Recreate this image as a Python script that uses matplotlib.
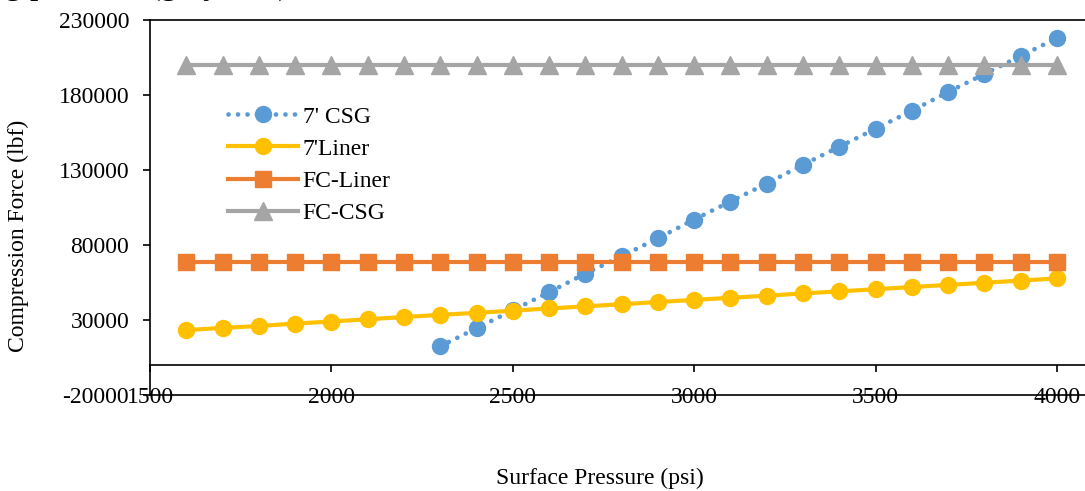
import matplotlib
matplotlib.use("Agg")
import matplotlib.pyplot as plt

plt.rcParams['font.family'] = ['Liberation Serif', 'DejaVu Serif']

# Data
p_csg = [2300, 2400, 2500, 2600, 2700, 2800, 2900, 3000, 3100, 3200, 3300,
         3400, 3500, 3600, 3700, 3800, 3900, 4000]
csg_7 = [12500, 24500, 36500, 48500, 61000, 72500, 84500, 97000, 109000,
         121000, 133500, 145500, 157500, 169500, 182000, 194000, 206000, 218000]

p_liner = [1600, 1700, 1800, 1900, 2000, 2100, 2200, 2300, 2400, 2500, 2600,
           2700, 2800, 2900, 3000, 3100, 3200, 3300, 3400, 3500, 3600, 3700,
           3800, 3900, 4000]
liner_7 = [23300, 24700, 26000, 27600, 29000, 30500, 32000, 33400, 34800,
           36200, 37700, 39100, 40500, 42000, 43400, 44800, 46200, 47700,
           49100, 50500, 52000, 53400, 54800, 56300, 57700]
fc_liner = [68500] * len(p_liner)
fc_csg = [200000] * len(p_liner)

x_ticks = [1500, 2000, 2500, 3000, 3500, 4000]
y_ticks = [-20000, 30000, 80000, 130000, 180000, 230000]

W, H = 1085, 491
fig = plt.figure(figsize=(W / 100, H / 100), dpi=100)
ax = fig.add_axes([150 / W, 1 - 395 / H, (W - 150) / W, 375 / H])

blue, gold, orange, gray = '#5B9BD5', '#FFC000', '#ED7D31', '#A5A5A5'

ax.plot(p_csg, csg_7, color=blue, lw=3.4, linestyle=(0, (0.01, 2.0)),
        dash_capstyle='round', marker='o', ms=11.5, mfc=blue, mec=blue,
        label="7' CSG", clip_on=False)
ax.plot(p_liner, liner_7, color=gold, lw=3.0, marker='o', ms=11.5, mfc=gold,
        mec=gold, label="7'Liner", clip_on=False)
ax.plot(p_liner, fc_liner, color=orange, lw=3.0, marker='s', ms=12,
        mfc=orange, mec=orange, label="FC-Liner", clip_on=False)
ax.plot(p_liner, fc_csg, color=gray, lw=3.0, marker='^', ms=12.5, mfc=gray,
        mec=gray, label="FC-CSG", clip_on=False)

ax.set_xlim(1500, 4000 + 28 / (907 / 2500))
ax.set_ylim(-20000, 230000)

ax.spines['right'].set_visible(False)
ax.spines['bottom'].set_position(('data', 0))
for s in ['top', 'left', 'bottom']:
    ax.spines[s].set_linewidth(1.2)
    ax.spines[s].set_color('black')
ax.axhline(-20000, color='black', lw=1.2, zorder=5, clip_on=False)

ax.set_xticks(x_ticks)
ax.set_xticklabels([str(v) for v in x_ticks])
ax.set_yticks(y_ticks)
ax.set_yticklabels([str(v) for v in y_ticks])
ax.tick_params(axis='x', direction='out', length=5, width=1.2, pad=10.5,
               labelsize=17)
ax.tick_params(axis='y', direction='out', length=5, width=1.2, pad=10,
               labelsize=17)

fig.text(18 / W, 1 - 236 / H, 'Compression Force (lbf)', rotation=90,
         ha='center', va='center', fontsize=17)
fig.text(600 / W, 1 - 478 / H, 'Surface Pressure (psi)', ha='center',
         va='center', fontsize=17)
fig.text(5 / W, 1 + 6 / H, 'g pressure (gray line)', ha='left',
         va='baseline', fontsize=24)

leg = ax.legend(loc='upper left', bbox_to_anchor=(228 / W, 1 - 106 / H),
                bbox_transform=fig.transFigure, frameon=False, fontsize=17,
                handlelength=2.97, handletextpad=0.2, labelspacing=0.45,
                borderpad=0, borderaxespad=0)

fig.savefig('out.png', dpi=100)
